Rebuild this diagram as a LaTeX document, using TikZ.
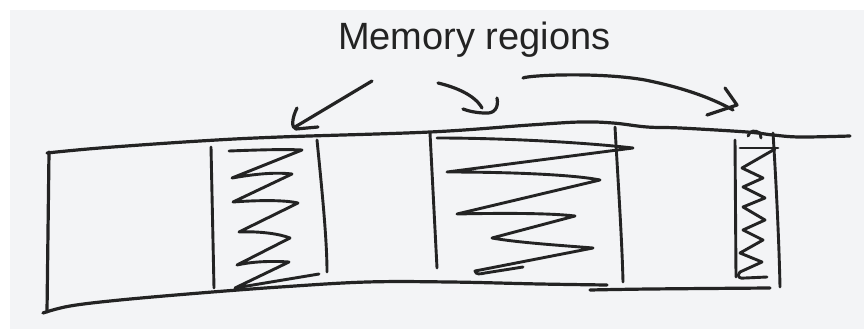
\documentclass[tikz,border=0pt]{standalone}
\usepackage{xcolor}
\usepackage{fontspec}
\setmainfont{Liberation Sans}
\definecolor{ink}{HTML}{232323}
\definecolor{paper}{HTML}{F3F4F6}
\begin{document}
\begin{tikzpicture}[x=1pt,y=-1pt,
  pen/.style={line width=3.2pt, draw=ink, line cap=round, line join=round},
  thinpen/.style={line width=2.9pt, draw=ink, line cap=round, line join=round},
  label/.style={font=\fontsize{38}{40}\selectfont, text=ink, inner sep=0pt, anchor=base west}]
\useasboundingbox (0,0) rectangle (864,329);
\fill[white] (0,0) rectangle (864,329);
\fill[paper] (10,10) rectangle (864,329);

% title
\node[label] (title) at (338,50) {Memory regions};
\coordinate (a1s) at (372,81);
\coordinate (a1e) at (295,127);
\coordinate (a2s) at (438,83);
\coordinate (a2e) at (482,108);
\coordinate (a3s) at (523,78);
\coordinate (a3e) at (733,110);

% outer band
\draw[pen] plot[smooth, tension=0.6] coordinates {(47,153) (100,148) (200,141) (280,137) (430,132) (530,125) (580,122) (613,123) (647,127) (680,128) (747,132) (773,135) (800,137) (850,136)};
\draw[pen] plot[smooth, tension=0.6] coordinates {(43,313) (70,306) (120,300) (200,293) (280,287) (367,282) (450,282) (540,284) (607,285)};
\draw[pen] plot[smooth, tension=0.6] coordinates {(590,290) (650,289) (770,288)};
\draw[pen] (49,152) -- (47,312);
% small hook on top line
\draw[thinpen] (748,136) .. controls (750,130) and (755,130) .. (760,133) -- (761,138);

% region verticals
\draw[thinpen] (211,147) -- (214,288);
\draw[thinpen] (317,140) .. controls (322,190) and (327,240) .. (327,272);
\draw[thinpen] (430,133) -- (437,268);
\draw[thinpen] (615,127) .. controls (618,180) and (622,240) .. (623,282);
\draw[thinpen] (735,140) -- (736,277);
\draw[thinpen] (773,133) .. controls (776,180) and (779,240) .. (780,287);
\draw[thinpen] (740,148) -- (778,148);

% zigzag region 1
\draw[thinpen] (229,151) .. controls (255,150) and (285,149) .. (302,150) -- (232,178) .. controls (255,174) and (275,172) .. (292,174) -- (233,202) .. controls (260,200) and (285,200) .. (298,203) -- (239,232) .. controls (260,231) and (280,234) .. (290,238) -- (237,265) .. controls (255,261) and (275,261) .. (289,262) -- (235,288) -- (319,274);

% zigzag region 2
\draw[thinpen] (437,138) .. controls (500,138) and (580,142) .. (633,148) -- (447,172) .. controls (500,172) and (570,174) .. (600,180) -- (457,214) .. controls (500,213) and (550,213) .. (575,216) -- (492,238) .. controls (520,243) and (570,246) .. (593,248) -- (475,271) .. controls (476,275) and (480,274) .. (485,273) -- (523,267);

% zigzag region 3
\draw[thinpen] (775,149) -- (742,168) -- (763,178) -- (743,187) -- (765,198) -- (743,207) -- (765,220) -- (743,230) -- (763,240) -- (740,253) -- (762,262) -- (740,272) .. controls (736,277) and (740,279) .. (745,278) -- (767,277);

% arrows
\draw[pen] (a1s) -- (a1e);
\draw[pen] (297,108) .. controls (292,118) and (291,128) .. (296,129) -- (318,127);
\draw[pen] (a2s) .. controls (455,87) and (475,95) .. (a2e);
\draw[pen] (497,98) .. controls (499,108) and (494,114) .. (485,113) .. controls (477,113) and (468,111) .. (463,109);
\draw[pen] (a3s) .. controls (530,75) and (600,72) .. (645,80) .. controls (680,87) and (710,97) .. (a3e);
\draw[pen] (725,88) -- (737,105) -- (707,115);
\end{tikzpicture}
\end{document}
